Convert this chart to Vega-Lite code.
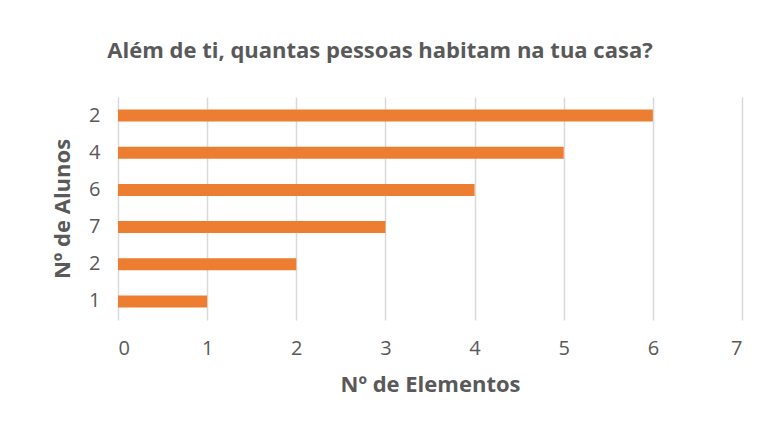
{
  "$schema": "https://vega.github.io/schema/vega-lite/v6.json",
  "autosize": "none",
  "width": 624,
  "height": 223,
  "padding": {"left": 118, "top": 97, "right": 24, "bottom": 110},
  "background": "white",
  "title": {
    "text": "Além de ti, quantas pessoas habitam na tua casa?",
    "anchor": "middle",
    "dx": -50,
    "offset": 34,
    "font": "Open Sans",
    "fontSize": 22,
    "fontWeight": "bold",
    "color": "#595959"
  },
  "data": {
    "values": [
      {"cat": "2#a", "valor": 6},
      {"cat": "4#b", "valor": 5},
      {"cat": "6#c", "valor": 4},
      {"cat": "7#d", "valor": 3},
      {"cat": "2#e", "valor": 2},
      {"cat": "1#f", "valor": 1}
    ]
  },
  "mark": {"type": "bar", "color": "#ED7D31", "size": 12},
  "encoding": {
    "y": {
      "field": "cat",
      "type": "nominal",
      "sort": null,
      "title": "Nº de Alunos",
      "axis": {
        "labelExpr": "split(datum.value, '#')[0]",
        "domain": false,
        "ticks": false,
        "labelPadding": 18,
        "labelFont": "Open Sans",
        "labelFontSize": 20,
        "labelColor": "#595959",
        "titleFont": "Open Sans",
        "titleFontSize": 22,
        "titleFontWeight": "bold",
        "titleColor": "#595959",
        "titlePadding": 14
      }
    },
    "x": {
      "field": "valor",
      "type": "quantitative",
      "scale": {"domain": [0, 7], "nice": false},
      "title": "Nº de Elementos",
      "axis": {
        "values": [0, 1, 2, 3, 4, 5, 6, 7],
        "format": "d",
        "domain": false,
        "ticks": false,
        "grid": true,
        "gridColor": "#D9D9D9",
        "gridWidth": 1.5,
        "labelPadding": 18,
        "labelFont": "Open Sans",
        "labelFontSize": 20,
        "labelColor": "#595959",
        "titleFont": "Open Sans",
        "titleFontSize": 22,
        "titleFontWeight": "bold",
        "titleColor": "#595959",
        "titlePadding": 16
      }
    }
  },
  "config": {"view": {"stroke": null}}
}
